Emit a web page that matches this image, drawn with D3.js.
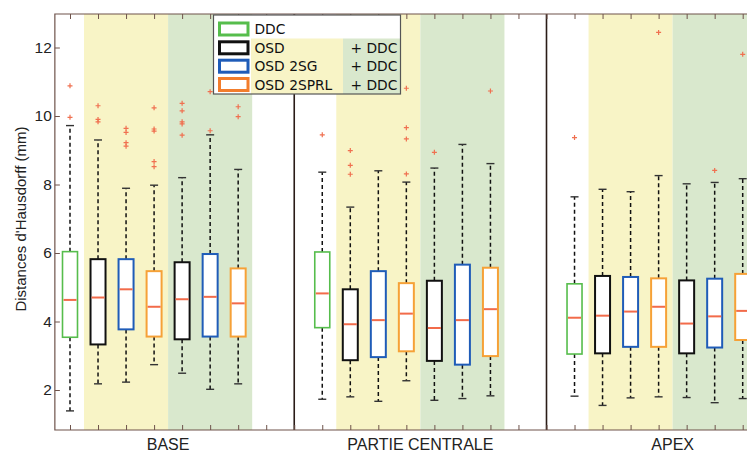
<!DOCTYPE html>
<html>
<head>
<meta charset="utf-8">
<script src="https://cdn.jsdelivr.net/npm/d3@7"></script>
<style>
  html, body { margin: 0; padding: 0; background: #fff; }
  svg { display: block; }
</style>
</head>
<body>
<svg id="chart" width="747" height="453"></svg>
<script>
// ---------------- DATA ----------------
const groups = ["BASE", "PARTIE CENTRALE", "APEX"];
const methods = ["DDC", "OSD", "OSD 2SG", "OSD 2SPRL", "OSD + DDC", "OSD 2SG + DDC", "OSD 2SPRL + DDC"];
const yTicks = [2, 4, 6, 8, 10, 12];

// [whisker low, q1, median, q3, whisker high] for each method
const baseStats = [
  [1.39, 3.54, 4.63, 6.04, 9.72],
  [2.18, 3.33, 4.70, 5.82, 9.30],
  [2.23, 3.77, 4.94, 5.82, 7.89],
  [2.74, 3.56, 4.43, 5.47, 7.98],
  [2.49, 3.48, 4.65, 5.73, 8.20],
  [2.02, 3.56, 4.72, 5.97, 9.45],
  [2.18, 3.56, 4.53, 5.55, 8.44]
];
const centraleStats = [
  [1.73, 3.82, 4.82, 6.03, 8.36],
  [1.80, 2.87, 3.92, 4.94, 7.34],
  [1.67, 2.96, 4.04, 5.47, 8.40],
  [2.27, 3.13, 4.23, 5.12, 8.07],
  [1.70, 2.85, 3.81, 5.19, 8.48],
  [1.75, 2.74, 4.04, 5.66, 9.17],
  [1.83, 2.99, 4.36, 5.57, 8.61]
];
const apexStats = [
  [1.82, 3.05, 4.11, 5.10, 7.64],
  [1.55, 3.07, 4.17, 5.33, 7.86],
  [1.77, 3.26, 4.29, 5.30, 7.79],
  [1.80, 3.26, 4.43, 5.26, 8.26],
  [1.78, 3.07, 3.94, 5.20, 8.02],
  [1.63, 3.24, 4.15, 5.25, 8.06],
  [1.75, 3.46, 4.31, 5.39, 8.17]
];
// outliers for each method
const baseOutliers = [
  [10.88, 9.96],
  [10.30, 9.90, 9.83],
  [9.64, 9.52, 9.22, 9.12],
  [10.24, 9.62, 9.56, 8.67, 8.52],
  [10.37, 10.15, 9.83, 9.77, 9.44],
  [10.71, 9.57],
  [10.27, 9.98]
];
const centraleOutliers = [
  [9.45],
  [8.99, 8.56, 8.30],
  [],
  [10.81, 9.66, 9.33, 8.31],
  [8.94],
  [],
  [10.73]
];
const apexOutliers = [
  [9.37],
  [],
  [],
  [12.44],
  [],
  [8.41],
  [11.80]
];

const allStats = [baseStats, centraleStats, apexStats];
const allOutliers = [baseOutliers, centraleOutliers, apexOutliers];

// ---------------- STYLE ----------------
const methodColors = ["#56bd4c", "#111111", "#1f5cb8", "#f6a137", "#111111", "#1f5cb8", "#f6a137"];
const legendColors = ["#56bd4c", "#111111", "#1f5cb8", "#f27d2c"];
const yellowBand = "#f8f4c6";
const greenBand = "#d9e8cd";
const medianColor = "#f26b4a";
const frameColor = "#6e534b";
const groupSpan = 9; // positions per group (7 boxes + gap + separator)

const svg = d3.select("#chart");
const plotTop = 14, plotBottom = 430;

const x = d3.scaleLinear().domain([1, 25]).range([70, 742.7]);
const y = d3.scaleLinear().domain([2, 12]).range([390, 47.5]);
const xLeft = x(0.46), xRight = x(26.6);

// background bands
groups.forEach((g, gi) => {
  const off = gi * groupSpan;
  svg.append("rect")
    .attr("x", x(off + 1.5)).attr("y", plotTop)
    .attr("width", x(off + 4.5) - x(off + 1.5)).attr("height", plotBottom - plotTop)
    .attr("fill", yellowBand);
  svg.append("rect")
    .attr("x", x(off + 4.5)).attr("y", plotTop)
    .attr("width", x(off + 7.5) - x(off + 4.5)).attr("height", plotBottom - plotTop)
    .attr("fill", greenBand);
});

// separators
[9, 18].forEach(p => {
  svg.append("line")
    .attr("x1", x(p)).attr("x2", x(p)).attr("y1", plotTop).attr("y2", plotBottom)
    .attr("stroke", "#2a1c17").attr("stroke-width", 1.6);
});

// frame
svg.append("path")
  .attr("d", `M${xRight},${plotTop}H${xLeft}V${plotBottom}H${xRight}`)
  .attr("fill", "none").attr("stroke", frameColor).attr("stroke-width", 1.2);

// x ticks (top & bottom, inside)
const xTickVals = d3.range(1, 27);
svg.append("g").attr("transform", `translate(0,${plotBottom})`)
  .call(d3.axisBottom(x).tickValues(xTickVals).tickSizeInner(-5).tickSizeOuter(0).tickFormat(""))
  .call(g => g.select(".domain").remove())
  .call(g => g.selectAll("line").attr("stroke", frameColor));
svg.append("g").attr("transform", `translate(0,${plotTop})`)
  .call(d3.axisTop(x).tickValues(xTickVals).tickSizeInner(-5).tickSizeOuter(0).tickFormat(""))
  .call(g => g.select(".domain").remove())
  .call(g => g.selectAll("line").attr("stroke", frameColor));

// y axis
svg.append("g").attr("transform", `translate(${xLeft},0)`)
  .call(d3.axisLeft(y).tickValues(yTicks).tickSizeInner(-5).tickSizeOuter(0).tickPadding(3))
  .call(g => g.select(".domain").remove())
  .call(g => g.selectAll("line").attr("stroke", frameColor))
  .call(g => g.selectAll("text")
    .attr("font-family", "Liberation Sans, Arial, sans-serif")
    .attr("font-size", 15.5).attr("fill", "#222"));

// y label
svg.append("text")
  .attr("transform", `translate(26,${219}) rotate(-90)`)
  .attr("text-anchor", "middle")
  .attr("font-family", "Liberation Sans, Arial, sans-serif")
  .attr("font-size", 15)
  .attr("fill", "#222")
  .text("Distances d'Hausdorff (mm)");

// group labels
groups.forEach((g, gi) => {
  svg.append("text")
    .attr("x", x(gi * groupSpan + 4.5)).attr("y", 450)
    .attr("text-anchor", "middle")
    .attr("font-family", "Liberation Sans, Arial, sans-serif")
    .attr("font-size", 16)
    .attr("fill", "#222")
    .text(g);
});

// boxes
const boxW = 15, capW = 8;
allStats.forEach((stats, gi) => {
  stats.forEach((s, mi) => {
    const cx = x(gi * groupSpan + 1 + mi);
    const [lo, q1, med, q3, hi] = s;
    const gEl = svg.append("g");
    // whiskers
    gEl.append("line").attr("x1", cx).attr("x2", cx).attr("y1", y(q3)).attr("y2", y(hi))
      .attr("stroke", "#111").attr("stroke-width", 1.5).attr("stroke-dasharray", "4,3");
    gEl.append("line").attr("x1", cx).attr("x2", cx).attr("y1", y(q1)).attr("y2", y(lo))
      .attr("stroke", "#111").attr("stroke-width", 1.5).attr("stroke-dasharray", "4,3");
    // caps
    [lo, hi].forEach(v => {
      gEl.append("line").attr("x1", cx - capW / 2).attr("x2", cx + capW / 2)
        .attr("y1", y(v)).attr("y2", y(v))
        .attr("stroke", "#333").attr("stroke-width", 1.4);
    });
    // box
    gEl.append("rect")
      .attr("x", cx - boxW / 2).attr("y", y(q3))
      .attr("width", boxW).attr("height", y(q1) - y(q3))
      .attr("fill", "#fff")
      .attr("stroke", methodColors[mi]).attr("stroke-width", mi === 0 ? 1.6 : 2);
    // median
    gEl.append("line").attr("x1", cx - boxW / 2 + 1).attr("x2", cx + boxW / 2 - 1)
      .attr("y1", y(med)).attr("y2", y(med))
      .attr("stroke", medianColor).attr("stroke-width", 2);
    // outliers
    allOutliers[gi][mi].forEach(v => {
      gEl.append("path")
        .attr("d", `M${cx - 2.5},${y(v)}H${cx + 2.5}M${cx},${y(v) - 2.5}V${y(v) + 2.5}`)
        .attr("stroke", "#f07050").attr("stroke-width", 1.2);
    });
  });
});

// legend
const legX = 213.5, legY = 15, legW = 187, legH = 79;
const lg = svg.append("g");
lg.append("rect").attr("x", legX).attr("y", legY).attr("width", legW).attr("height", legH).attr("fill", "#fff");
lg.append("rect").attr("x", 251).attr("y", 38.5).attr("width", 343 - 251).attr("height", legY + legH - 38.5).attr("fill", yellowBand);
lg.append("rect").attr("x", 343).attr("y", 38.5).attr("width", legX + legW - 343).attr("height", legY + legH - 38.5).attr("fill", greenBand);
lg.append("rect").attr("x", legX).attr("y", legY).attr("width", legW).attr("height", legH)
  .attr("fill", "none").attr("stroke", "#555").attr("stroke-width", 1.2);
const legendLabels = methods.slice(0, 4);
const rowY = [29, 47.8, 66.2, 84.5];
legendLabels.forEach((m, i) => {
  lg.append("rect").attr("x", 219.5).attr("y", rowY[i] - 6).attr("width", 28.5).attr("height", 12)
    .attr("fill", "#fff").attr("stroke", legendColors[i]).attr("stroke-width", 3);
  lg.append("text").attr("x", 254.5).attr("y", rowY[i] + 5)
    .attr("font-family", "DejaVu Sans, Verdana, sans-serif").attr("font-size", 13.8)
    .attr("fill", "#111").text(m);
  if (i > 0) {
    lg.append("text").attr("x", 350.5).attr("y", rowY[i] + 5)
      .attr("font-family", "DejaVu Sans, Verdana, sans-serif").attr("font-size", 13.8)
      .attr("fill", "#111").text("+ DDC");
  }
});
</script>
</body>
</html>
